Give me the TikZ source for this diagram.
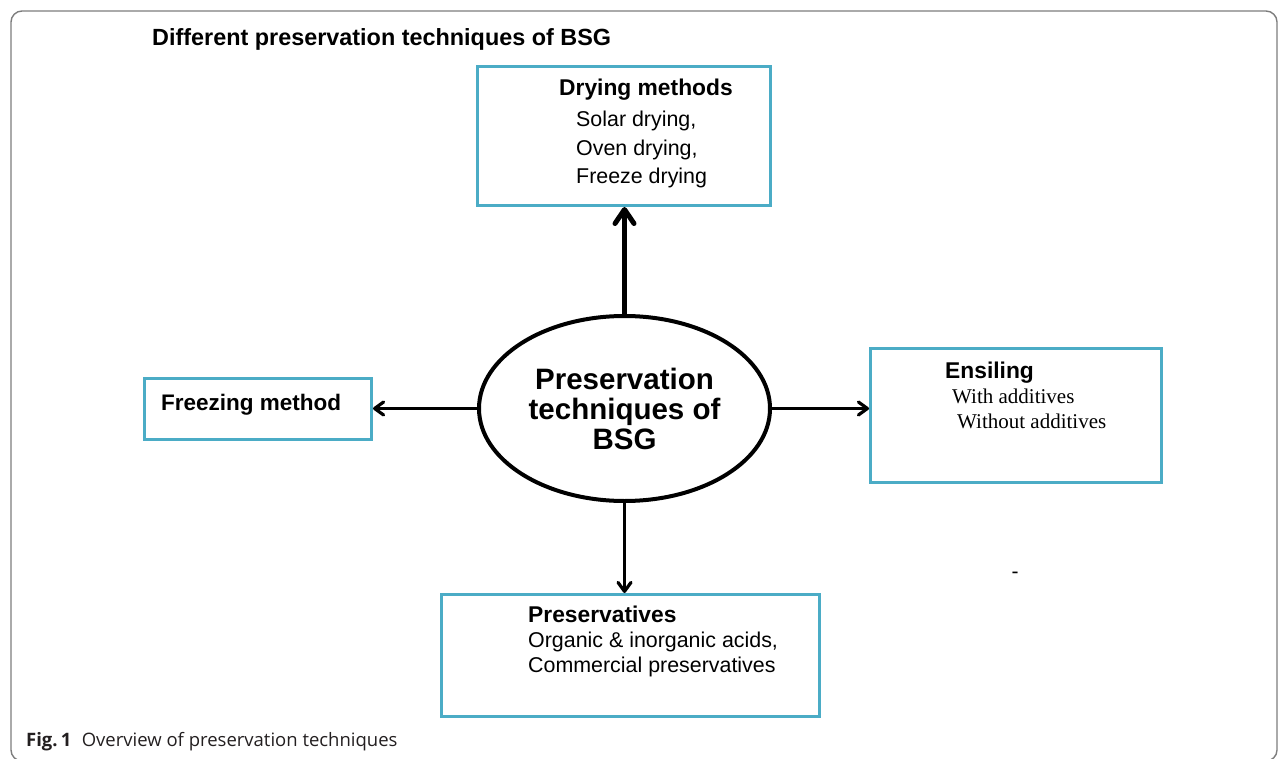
\documentclass[tikz,border=0pt]{standalone}
\usepackage{fontspec}
\setmainfont{Liberation Sans}
\newfontfamily\serifface{Liberation Serif}
\newfontfamily\captionface{Open Sans}
\usetikzlibrary{shapes.geometric,arrows.meta}
\definecolor{boxblue}{RGB}{75,172,198}
\definecolor{framegray}{RGB}{125,125,125}
\definecolor{captext}{RGB}{35,31,32}
\begin{document}
\begin{tikzpicture}[x=1pt,y=-1pt,
  box/.style={draw=boxblue, line width=3pt, rectangle, inner sep=0pt},
  lbl/.style={anchor=base west, inner sep=0pt, font=\fontsize{21.4}{25}\selectfont},
  serlbl/.style={anchor=base west, inner sep=0pt, font=\serifface\fontsize{21}{25}\selectfont},
  head/.style={anchor=base west, inner sep=0pt, font=\bfseries\fontsize{22.8}{27}\selectfont},
  capfont/.style={anchor=base west, inner sep=0pt, text=captext, font=\captionface\fontsize{18.5}{20}\selectfont},
  thinlink/.style={line width=3.2pt, -{Straight Barb[round,length=9pt,width=13pt]}},
  thicklink/.style={line width=5pt, -{Straight Barb[round,length=14pt,width=19pt]}},
]
\useasboundingbox (0,0) rectangle (1282,759);

% outer frame
\draw[framegray, line width=1.4pt, rounded corners=11pt] (11,11) rectangle (1277,761);

% heading
\node[anchor=base west, inner sep=0pt, font=\bfseries\fontsize{23.4}{28}\selectfont] (title) at (152,46) {Different preservation techniques of BSG};

% central ellipse
\node[draw, ellipse, line width=4pt, minimum width=291pt, minimum height=185pt, inner sep=0pt,
      align=center, font=\bfseries\fontsize{29.5}{30}\selectfont] (ell) at (624.5,408.5)
      {Preservation\\techniques of\\BSG};

% boxes
\node[box, minimum width=293pt, minimum height=139pt] (dry) at (624,136) {};
\node[box, minimum width=227pt, minimum height=61pt] (frz) at (258,409) {};
\node[box, minimum width=291pt, minimum height=134pt] (ens) at (1016,415.5) {};
\node[box, minimum width=378pt, minimum height=122pt] (pres) at (630.5,655.5) {};

% drying methods
\node[head] (dryh) at (559,96) {Drying methods};
\node[lbl] (dry1) at (576,127) {Solar drying,};
\node[lbl] (dry2) at (576,156) {Oven drying,};
\node[lbl] (dry3) at (576,184) {Freeze drying};

% freezing
\node[head, font=\bfseries\fontsize{22.5}{27}\selectfont] (frzh) at (161,410) {Freezing method};

% ensiling
\node[head] (ensh) at (945,378) {Ensiling};
\node[serlbl] (ens1) at (952,403) {With additives};
\node[serlbl] (ens2) at (957,428) {Without additives};

% preservatives
\node[head] (presh) at (528,622) {Preservatives};
\node[lbl] (pres1) at (528,647) {Organic \& inorganic acids,};
\node[lbl] (pres2) at (528,672) {Commercial preservatives};

% stray mark
\node[inner sep=0pt, font=\fontsize{21}{25}\selectfont] (dash) at (1015,575) {-};

% connectors
\draw[thicklink] (ell.north) -- (ell.north |- dry.south);
\draw[thinlink] (ell.west) -- (ell.west -| frz.east);
\draw[thinlink] (ell.east) -- (ell.east -| ens.west);
\draw[thinlink] (ell.south) -- (ell.south |- pres.north);

% caption
\node[capfont, font=\captionface\bfseries\fontsize{18.5}{20}\selectfont] (figno) at (26,746) {Fig.\,1};
\node[capfont] (captxt) at ([xshift=10pt]figno.base east) {Overview of preservation techniques};
\end{tikzpicture}
\end{document}
